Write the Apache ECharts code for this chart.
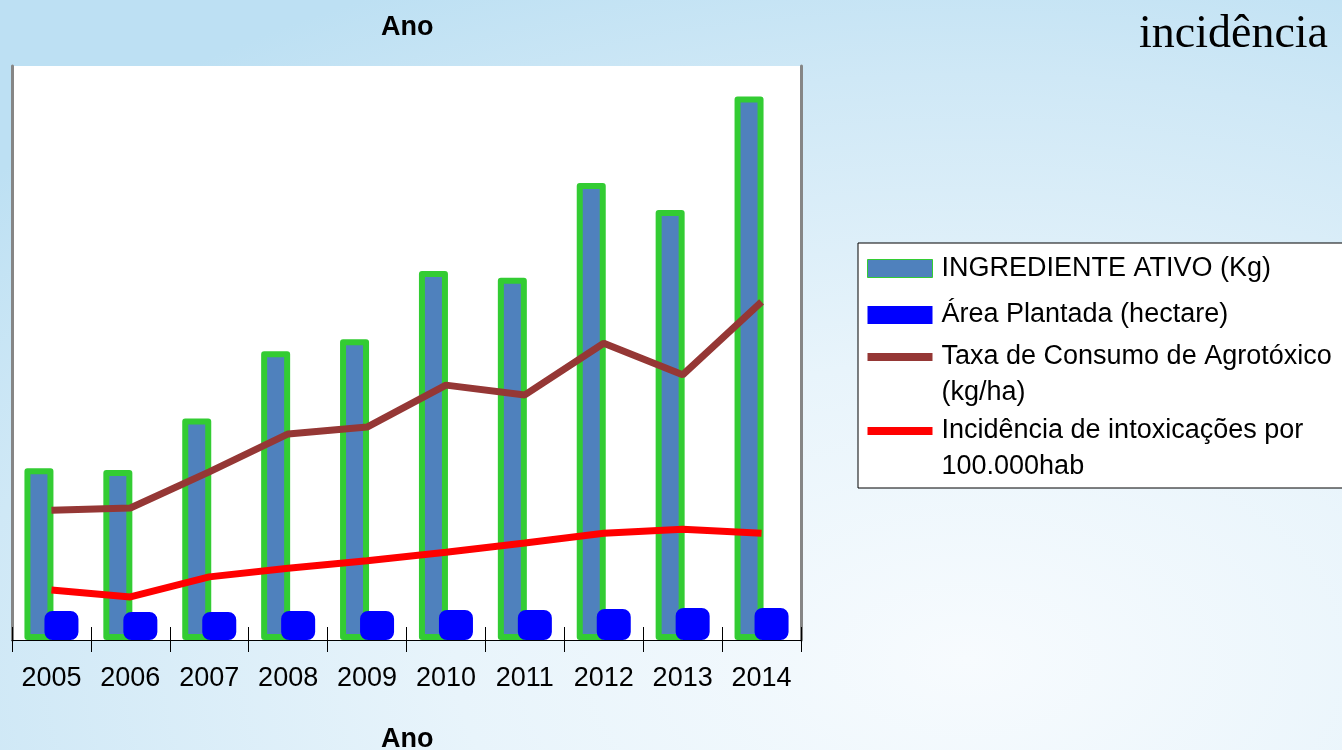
<!DOCTYPE html>
<html>
<head>
<meta charset="utf-8">
<script src="https://cdn.jsdelivr.net/npm/echarts@6/dist/echarts.min.js"></script>
<style>
  html, body { margin: 0; padding: 0; }
  body {
    width: 1342px; height: 750px; overflow: hidden;
    background: radial-gradient(ellipse 95% 100% at 72% 88%, #f7fbfe 0%, #e8f4fb 40%, #cfe8f6 78%, #bde0f3 100%);
  }
  #main { width: 1342px; height: 750px; }
</style>
</head>
<body>
<div id="main"></div>
<script>
// anos
const anos = ['2005', '2006', '2007', '2008', '2009', '2010', '2011', '2012', '2013', '2014']
// valores (escala relativa 0-100)
const ingredienteAtivo = [29.9, 29.6, 38.6, 50.3, 52.4, 64.3, 63.1, 79.6, 74.9, 94.7]
const areaPlantada = [5.05, 4.88, 4.88, 5.05, 5.05, 5.23, 5.23, 5.4, 5.57, 5.57]
const taxaConsumo = [22.6, 23.0, 29.3, 35.9, 37.1, 44.4, 42.7, 51.7, 46.2, 58.9]
const incidencia = [8.7, 7.5, 11.0, 12.5, 13.8, 15.3, 16.9, 18.6, 19.3, 18.6]

const nomes = [
  'INGREDIENTE ATIVO (Kg)',
  'Área Plantada (hectare)',
  'Taxa de Consumo de Agrotóxico\n(kg/ha)',
  'Incidência de intoxicações por\n100.000hab'
]

const fonte = 'Liberation Sans, Arial, sans-serif'
// icones da legenda (caixa 69x44)
const iconeBarra = 'path://M0,13H65V31H0Z M0,0L0,0 M69,44L69,44'
const iconeLinha = 'path://M0,0H65V8H0Z M69,44L69,44'

const chart = echarts.init(document.getElementById('main'))
chart.setOption({
  animation: false,
  backgroundColor: 'transparent',
  title: [
    { text: 'Ano', left: 381, top: 14, padding: 0, textStyle: { fontSize: 27, fontWeight: 'bold', color: '#000', fontFamily: fonte } },
    { text: 'Ano', left: 381, top: 726, padding: 0, textStyle: { fontSize: 27, fontWeight: 'bold', color: '#000', fontFamily: fonte } },
    { text: 'incidência', left: 1139, top: 12, padding: 0, textStyle: { fontSize: 46, fontWeight: 'normal', color: '#000', fontFamily: 'Liberation Serif, serif' } }
  ],
  grid: {
    left: 12, right: 541, top: 66, bottom: 110,
    show: true, backgroundColor: '#fff', borderWidth: 0
  },
  legend: {
    orient: 'vertical',
    left: 858,
    top: 243,
    padding: [3, 12, 3, 9],
    itemWidth: 69,
    itemHeight: 44,
    itemGap: 2,
    symbolKeepAspect: false,
    backgroundColor: '#fff',
    borderColor: '#000',
    borderWidth: 1,
    textStyle: { fontSize: 27, lineHeight: 36, color: '#000', fontFamily: fonte },
    data: [
      { name: nomes[0], icon: iconeBarra, itemStyle: { borderWidth: 1 } },
      { name: nomes[1], icon: iconeBarra, itemStyle: { borderWidth: 0 } },
      { name: nomes[2], icon: iconeLinha, itemStyle: { borderWidth: 0 } },
      { name: nomes[3], icon: iconeLinha, itemStyle: { borderWidth: 0 } }
    ]
  },
  xAxis: [
    {
      type: 'category',
      data: anos,
      position: 'bottom',
      axisLine: { show: true, lineStyle: { color: '#000', width: 1 } },
      axisTick: { show: true, length: 12, lineStyle: { color: '#000' } },
      axisLabel: { fontSize: 27, color: '#000', fontFamily: fonte, margin: 25 }
    },
    {
      // marcas internas (cruzando o eixo)
      type: 'category',
      data: anos,
      position: 'bottom',
      axisLine: { show: false },
      axisTick: { show: true, inside: true, length: 13, lineStyle: { color: '#000' } },
      axisLabel: { show: false }
    }
  ],
  yAxis: [
    {
      type: 'value', min: 0, max: 100,
      axisLine: { show: true, lineStyle: { color: '#868686', width: 3 } },
      axisTick: { show: false }, axisLabel: { show: false }, splitLine: { show: false }
    },
    {
      type: 'value', min: 0, max: 100, position: 'right',
      axisLine: { show: true, lineStyle: { color: '#868686', width: 3 } },
      axisTick: { show: false }, axisLabel: { show: false }, splitLine: { show: false }
    }
  ],
  series: [
    {
      name: nomes[0],
      type: 'bar',
      data: ingredienteAtivo,
      barWidth: 29,
      barGap: '-31%',
      itemStyle: { color: '#4f81bd', borderColor: '#33cc33', borderWidth: 6, borderJoin: 'round' }
    },
    {
      name: nomes[1],
      type: 'bar',
      data: areaPlantada,
      barWidth: 34,
      itemStyle: { color: '#0000ff', borderColor: '#0000ff', borderWidth: 6, borderRadius: 5, borderJoin: 'round' }
    },
    {
      name: nomes[2],
      type: 'line',
      yAxisIndex: 1,
      data: taxaConsumo,
      showSymbol: false,
      symbol: 'none',
      color: '#953735',
      lineStyle: { color: '#953735', width: 7 }
    },
    {
      name: nomes[3],
      type: 'line',
      yAxisIndex: 1,
      data: incidencia,
      showSymbol: false,
      symbol: 'none',
      color: '#ff0000',
      lineStyle: { color: '#ff0000', width: 7 }
    }
  ]
})
</script>
</body>
</html>
